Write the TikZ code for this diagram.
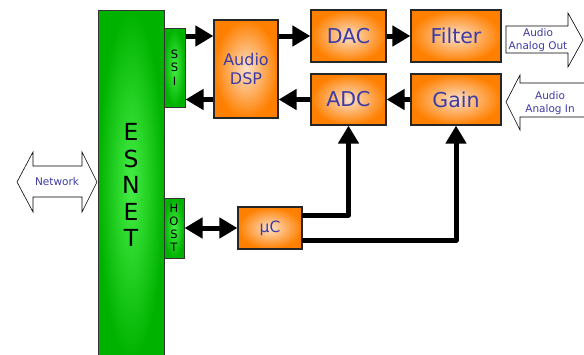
\documentclass[tikz,border=0pt]{standalone}
\usepackage{fontspec}
\setmainfont{DejaVu Sans}
\usetikzlibrary{arrows.meta}
\definecolor{orng}{RGB}{255,128,0}
\definecolor{peach}{RGB}{252,224,200}
\definecolor{grn}{RGB}{0,178,0}
\definecolor{lgrn}{RGB}{70,238,70}
\definecolor{txtblue}{RGB}{60,60,165}
\tikzset{
 obox/.style={draw=black!85, line width=1.2pt, inner sep=0pt, inner color=peach, outer color=orng, text=txtblue, font=\fontsize{20.5}{24}\selectfont},
 gbox/.style={draw=black!80, line width=1pt, inner sep=0pt, inner color=lgrn, outer color=grn, align=center},
 conn/.style={line width=5pt, -{Triangle[length=18pt,width=20pt]}, line join=round},
 hollow/.style={draw=black, line width=0.6pt, fill=white},
 lbl/.style={text=txtblue, font=\fontsize{10.5}{12.5}\selectfont, align=center}
}
\begin{document}
\begin{tikzpicture}[x=1pt,y=-1pt]
\path[use as bounding box, clip] (0,0) rectangle (584,354);
\fill[white] (0,0) rectangle (584,354);
% ESNET
\node[gbox, minimum width=66pt, minimum height=350pt, font=\fontsize{23.5}{26.5}\selectfont] (esnet) at (131,185) {E\\S\\N\\E\\T};
\node[gbox, minimum width=21pt, minimum height=79pt, font=\fontsize{11.5}{13.5}\selectfont] (ssi) at (174.5,67.5) {S\\S\\I};
\node[gbox, minimum width=20pt, minimum height=60pt, font=\fontsize{11.5}{12.8}\selectfont] (host) at (174,228) {H\\O\\S\\T};
% orange boxes
\node[obox, minimum width=64pt, minimum height=98pt, align=center, font=\fontsize{16}{19}\selectfont] (dsp) at (246,69) {Audio\\DSP};
\node[obox, minimum width=75pt, minimum height=52pt] (dac) at (348.5,36) {DAC};
\node[obox, minimum width=90pt, minimum height=52pt] (filter) at (456,36) {Filter};
\node[obox, minimum width=75pt, minimum height=51pt] (adc) at (348.5,99.5) {ADC};
\node[obox, minimum width=90pt, minimum height=51pt] (gain) at (456,99.5) {Gain};
\node[obox, minimum width=64pt, minimum height=42pt, font=\fontsize{15.5}{18}\selectfont] (uc) at (270,228) {µC};
% hollow block arrows
\draw[hollow] (506,26) -- (568,26) -- (568,13) -- (583,40) -- (568,67) -- (568,53) -- (506,53) -- cycle;
\node[lbl] (outlbl) at (538,40) {Audio\\Analog Out};
\draw[hollow] (584,83) -- (520,83) -- (520,75) -- (506,102) -- (520,130) -- (520,117) -- (584,117);
\node[lbl] (inlbl) at (550,103) {Audio\\Analog In};
\draw[hollow] (17,182) -- (33,152) -- (33,166) -- (82,166) -- (82,152) -- (97,182) -- (82,212) -- (82,197) -- (33,197) -- (33,212) -- cycle;
\node[lbl] (netlbl) at (57,182) {Network};
% connectors
\draw[conn] (ssi.east |- dac.west) -- (dsp.west |- dac.west);
\draw[conn] (dsp.east |- dac.west) -- (dac.west);
\draw[conn] (dac.east) -- (filter.west);
\draw[conn] (gain.west) -- (adc.east);
\draw[conn] (adc.west) -- (dsp.east |- adc.west);
\draw[conn] (dsp.west |- adc.west) -- (ssi.east |- adc.west);
\draw[conn, {Triangle[length=18pt,width=20pt]}-{Triangle[length=18pt,width=20pt]}] (host.east) -- (uc.west);
\coordinate (uca) at (302,215);
\coordinate (ucb) at (302,240);
\draw[conn] (uca) -| (adc.south);
\draw[conn] (ucb) -| (gain.south);
\end{tikzpicture}
\end{document}
